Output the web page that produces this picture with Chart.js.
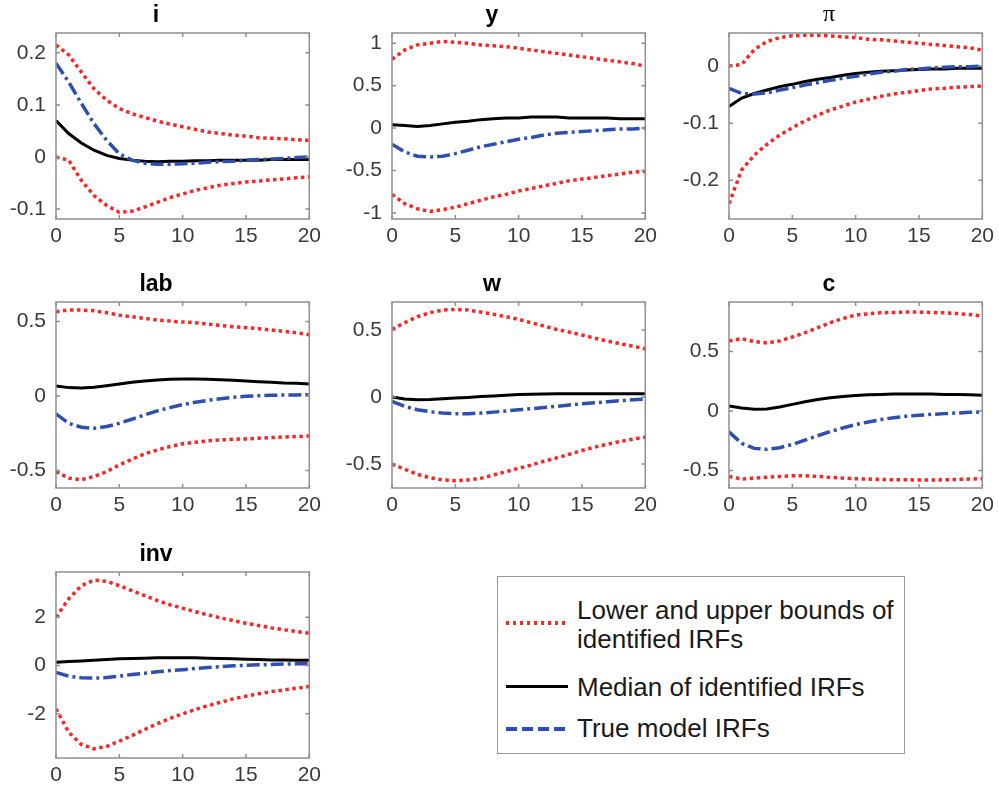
<!DOCTYPE html>
<html>
<head>
<meta charset="utf-8">
<script src="https://cdn.jsdelivr.net/npm/chart.js@4.4.1/dist/chart.umd.min.js"></script>
<style>
    body { margin: 0; background: #fff; }
    #fig { position: relative; width: 999px; height: 792px; font-family: "Liberation Sans", Arial, sans-serif; }
    #fig canvas { position: absolute; }
    #legend { position: absolute; left: 497px; top: 576px; width: 408px; height: 178px; box-sizing: border-box; border: 1px solid #999; }
    .key { position: absolute; left: 8px; width: 62px; height: 3px; }
    .txt { position: absolute; left: 79px; font-size: 26px; line-height: 29px; color: #1a1a1a; white-space: nowrap; }
</style>
</head>
<body>
<div id="fig">
    <div id="legend">
        <div class="key" style="top:44px;height:4px;background:repeating-linear-gradient(90deg,#ff2424 0 3px,transparent 3px 7px)"></div>
        <div class="txt" style="top:19px">Lower and upper bounds of<br>identified IRFs</div>
        <div class="key" style="top:108px;background:#000"></div>
        <div class="txt" style="top:96px">Median of identified IRFs</div>
        <div class="key" style="top:150px;height:4px;background:repeating-linear-gradient(90deg,#2f4fb0 0 11px,transparent 11px 16px)"></div>
        <div class="txt" style="top:137px">True model IRFs</div>
    </div>
</div>
<script>
    // horizon and ticks
    const steps = [0, 1, 2, 3, 4, 5, 6, 7, 8, 9, 10, 11, 12, 13, 14, 15, 16, 17, 18, 19, 20];
    const xTicks = [0, 5, 10, 15, 20];

    // i
    const iUpper = [0.215, 0.196, 0.163, 0.131, 0.109, 0.093, 0.083, 0.076, 0.069, 0.063, 0.058, 0.053, 0.048, 0.045, 0.042, 0.040, 0.037, 0.036, 0.035, 0.033, 0.032];
    const iLower = [0.000, -0.006, -0.045, -0.074, -0.093, -0.106, -0.104, -0.096, -0.087, -0.078, -0.071, -0.064, -0.059, -0.054, -0.051, -0.048, -0.046, -0.044, -0.042, -0.040, -0.038];
    const iMedian = [0.070, 0.045, 0.027, 0.013, 0.003, -0.003, -0.006, -0.008, -0.009, -0.008, -0.008, -0.007, -0.007, -0.006, -0.006, -0.006, -0.006, -0.005, -0.005, -0.005, -0.005];
    const iTrue = [0.180, 0.144, 0.103, 0.064, 0.032, 0.006, -0.006, -0.012, -0.014, -0.014, -0.013, -0.012, -0.010, -0.009, -0.008, -0.006, -0.005, -0.004, -0.003, -0.001, 0.000];
    const iTicks = [-0.1, 0, 0.1, 0.2];

    // y
    const yUpper = [0.81, 0.92, 0.98, 1.00, 1.02, 1.01, 1.00, 0.98, 0.97, 0.96, 0.94, 0.92, 0.90, 0.88, 0.86, 0.84, 0.82, 0.80, 0.78, 0.76, 0.73];
    const yLower = [-0.78, -0.89, -0.95, -0.98, -0.96, -0.93, -0.89, -0.85, -0.81, -0.78, -0.74, -0.71, -0.68, -0.65, -0.62, -0.60, -0.58, -0.56, -0.54, -0.52, -0.51];
    const yMedian = [0.04, 0.03, 0.02, 0.03, 0.05, 0.07, 0.08, 0.10, 0.11, 0.12, 0.12, 0.13, 0.13, 0.13, 0.12, 0.12, 0.12, 0.12, 0.11, 0.11, 0.11];
    const yTrue = [-0.19, -0.28, -0.33, -0.34, -0.33, -0.30, -0.26, -0.22, -0.19, -0.16, -0.13, -0.11, -0.08, -0.06, -0.05, -0.04, -0.03, -0.02, -0.01, -0.01, 0.00];
    const yTicks = [-1, -0.5, 0, 0.5, 1];

    // pi
    const piUpper = [0.000, 0.003, 0.029, 0.043, 0.050, 0.053, 0.054, 0.054, 0.053, 0.051, 0.050, 0.047, 0.046, 0.044, 0.042, 0.040, 0.038, 0.036, 0.034, 0.032, 0.028];
    const piLower = [-0.241, -0.182, -0.156, -0.137, -0.121, -0.108, -0.096, -0.086, -0.077, -0.070, -0.063, -0.058, -0.053, -0.049, -0.046, -0.043, -0.040, -0.039, -0.037, -0.036, -0.035];
    const piMedian = [-0.071, -0.056, -0.048, -0.042, -0.036, -0.032, -0.027, -0.023, -0.020, -0.016, -0.013, -0.011, -0.009, -0.008, -0.007, -0.006, -0.005, -0.005, -0.004, -0.004, -0.004];
    const piTrue = [-0.039, -0.048, -0.049, -0.047, -0.042, -0.038, -0.033, -0.029, -0.025, -0.021, -0.018, -0.014, -0.011, -0.009, -0.006, -0.005, -0.003, -0.002, -0.001, -0.001, 0.000];
    const piTicks = [-0.2, -0.1, 0];

    // lab
    const labUpper = [0.565, 0.576, 0.576, 0.571, 0.558, 0.542, 0.531, 0.520, 0.509, 0.502, 0.496, 0.491, 0.482, 0.473, 0.464, 0.458, 0.451, 0.442, 0.433, 0.424, 0.410];
    const labLower = [-0.507, -0.551, -0.562, -0.540, -0.507, -0.462, -0.424, -0.388, -0.362, -0.339, -0.321, -0.310, -0.301, -0.295, -0.290, -0.288, -0.283, -0.279, -0.275, -0.272, -0.268];
    const labMedian = [0.067, 0.056, 0.054, 0.058, 0.069, 0.080, 0.092, 0.100, 0.107, 0.112, 0.114, 0.114, 0.112, 0.109, 0.105, 0.100, 0.096, 0.092, 0.087, 0.085, 0.080];
    const labTrue = [-0.120, -0.183, -0.210, -0.217, -0.205, -0.183, -0.156, -0.127, -0.100, -0.078, -0.058, -0.042, -0.029, -0.018, -0.009, -0.002, 0.002, 0.004, 0.007, 0.007, 0.009];
    const labTicks = [-0.5, 0, 0.5];

    // w
    const wUpper = [0.505, 0.555, 0.600, 0.630, 0.650, 0.655, 0.650, 0.635, 0.618, 0.600, 0.580, 0.555, 0.530, 0.505, 0.485, 0.463, 0.440, 0.418, 0.398, 0.380, 0.360];
    const wLower = [-0.500, -0.540, -0.578, -0.603, -0.620, -0.625, -0.620, -0.608, -0.583, -0.558, -0.533, -0.508, -0.480, -0.455, -0.428, -0.400, -0.375, -0.353, -0.333, -0.315, -0.300];
    const wMedian = [0.000, -0.015, -0.020, -0.018, -0.013, -0.008, -0.003, 0.003, 0.008, 0.013, 0.018, 0.020, 0.023, 0.025, 0.025, 0.025, 0.025, 0.025, 0.025, 0.025, 0.025];
    const wTrue = [-0.033, -0.070, -0.095, -0.110, -0.120, -0.125, -0.125, -0.120, -0.113, -0.105, -0.095, -0.088, -0.078, -0.070, -0.060, -0.050, -0.043, -0.035, -0.028, -0.020, -0.015];
    const wTicks = [-0.5, 0, 0.5];

    // c
    const cUpper = [0.589, 0.608, 0.583, 0.572, 0.589, 0.622, 0.658, 0.700, 0.742, 0.778, 0.806, 0.817, 0.825, 0.828, 0.831, 0.831, 0.828, 0.825, 0.819, 0.811, 0.797];
    const cLower = [-0.550, -0.572, -0.564, -0.556, -0.550, -0.544, -0.544, -0.550, -0.558, -0.564, -0.569, -0.572, -0.575, -0.578, -0.578, -0.580, -0.580, -0.578, -0.575, -0.572, -0.569];
    const cMedian = [0.042, 0.025, 0.014, 0.017, 0.033, 0.056, 0.078, 0.097, 0.111, 0.122, 0.131, 0.136, 0.139, 0.142, 0.142, 0.142, 0.142, 0.139, 0.139, 0.136, 0.133];
    const cTrue = [-0.175, -0.272, -0.314, -0.322, -0.308, -0.281, -0.244, -0.208, -0.172, -0.142, -0.114, -0.092, -0.072, -0.056, -0.044, -0.036, -0.028, -0.022, -0.017, -0.011, -0.008];
    const cTicks = [-0.5, 0, 0.5];

    // inv
    const invUpper = [2.00, 2.76, 3.31, 3.54, 3.49, 3.31, 3.10, 2.90, 2.69, 2.52, 2.37, 2.23, 2.10, 1.97, 1.86, 1.75, 1.66, 1.56, 1.48, 1.41, 1.34];
    const invLower = [-1.79, -2.76, -3.27, -3.45, -3.35, -3.13, -2.90, -2.65, -2.41, -2.19, -2.00, -1.82, -1.66, -1.52, -1.38, -1.27, -1.17, -1.08, -1.01, -0.94, -0.87];
    const invMedian = [0.14, 0.17, 0.19, 0.22, 0.25, 0.28, 0.29, 0.30, 0.32, 0.32, 0.32, 0.32, 0.30, 0.29, 0.28, 0.26, 0.25, 0.23, 0.23, 0.22, 0.22];
    const invTrue = [-0.28, -0.44, -0.51, -0.52, -0.50, -0.44, -0.37, -0.32, -0.26, -0.21, -0.17, -0.12, -0.08, -0.04, -0.01, 0.01, 0.03, 0.04, 0.06, 0.07, 0.08];
    const invTicks = [-2, 0, 2];

    const panels = [
        { title: 'i', upper: iUpper, lower: iLower, median: iMedian, truth: iTrue, ticks: iTicks, min: -0.119, max: 0.238 },
        { title: 'y', upper: yUpper, lower: yLower, median: yMedian, truth: yTrue, ticks: yTicks, min: -1.07, max: 1.12 },
        { title: 'π', upper: piUpper, lower: piLower, median: piMedian, truth: piTrue, ticks: piTicks, min: -0.268, max: 0.058 },
        { title: 'lab', upper: labUpper, lower: labLower, median: labMedian, truth: labTrue, ticks: labTicks, min: -0.617, max: 0.63 },
        { title: 'w', upper: wUpper, lower: wLower, median: wMedian, truth: wTrue, ticks: wTicks, min: -0.68, max: 0.71 },
        { title: 'c', upper: cUpper, lower: cLower, median: cMedian, truth: cTrue, ticks: cTicks, min: -0.647, max: 0.916 },
        { title: 'inv', upper: invUpper, lower: invLower, median: invMedian, truth: invTrue, ticks: invTicks, min: -3.83, max: 3.875 }
    ];

    // grid of subplots
    const colLeft = [0, 336, 673];
    const rowTop = [0, 269, 539];

    // matlab style box with inward ticks
    const boxPlugin = {
        id: 'matlabBox',
        afterDraw(chart) {
            const { ctx, chartArea: a, scales } = chart;
            ctx.save();
            ctx.strokeStyle = '#8f8f8f';
            ctx.lineWidth = 1.5;
            ctx.strokeRect(a.left, a.top, a.right - a.left, a.bottom - a.top);
            ctx.beginPath();
            scales.x.ticks.forEach(t => {
                const px = scales.x.getPixelForValue(t.value);
                ctx.moveTo(px, a.bottom); ctx.lineTo(px, a.bottom - 4);
                ctx.moveTo(px, a.top); ctx.lineTo(px, a.top + 4);
            });
            scales.y.ticks.forEach(t => {
                const py = scales.y.getPixelForValue(t.value);
                ctx.moveTo(a.left, py); ctx.lineTo(a.left + 4, py);
                ctx.moveTo(a.right, py); ctx.lineTo(a.right - 4, py);
            });
            ctx.stroke();
            ctx.restore();
        }
    };

    function line(values, color, dash, width, order) {
        return {
            data: steps.map((s, k) => ({ x: s, y: values[k] })),
            borderColor: color,
            borderWidth: width,
            borderDash: dash,
            borderCapStyle: 'butt',
            pointRadius: 0,
            tension: 0,
            fill: false,
            order: order
        };
    }

    const fig = document.getElementById('fig');

    panels.forEach((p, n) => {
        const canvas = document.createElement('canvas');
        canvas.width = 326;
        canvas.height = 251;
        canvas.style.left = colLeft[n % 3] + 'px';
        canvas.style.top = rowTop[Math.floor(n / 3)] + 'px';
        fig.appendChild(canvas);

        const isPi = p.title === 'π';

        new Chart(canvas, {
            type: 'line',
            data: {
                datasets: [
                    line(p.upper, '#ff2424', [3.5, 3.5], 3.5, 3),
                    line(p.lower, '#ff2424', [3.5, 3.5], 3.5, 3),
                    line(p.median, '#000000', [], 3, 2),
                    line(p.truth, '#2f4fb0', [13, 4, 3, 4], 3.5, 1)
                ]
            },
            options: {
                responsive: false,
                animation: false,
                devicePixelRatio: 1,
                layout: { padding: { left: 0, right: 14, top: 0, bottom: 0 } },
                plugins: {
                    legend: { display: false },
                    tooltip: { enabled: false },
                    title: {
                        display: true,
                        text: p.title,
                        color: '#000',
                        font: isPi
                            ? { family: '"Liberation Serif", serif', size: 24, weight: 'normal', lineHeight: 1 }
                            : { family: '"Liberation Sans", Arial, sans-serif', size: 23, weight: 'bold', lineHeight: 1 },
                        padding: isPi ? { top: 3, bottom: 6 } : { top: 4, bottom: 6 }
                    }
                },
                scales: {
                    x: {
                        type: 'linear',
                        min: 0,
                        max: 20,
                        afterBuildTicks: s => { s.ticks = xTicks.map(v => ({ value: v })); },
                        afterFit: s => { s.height = 32; },
                        grid: { display: false, drawTicks: false },
                        border: { display: false },
                        ticks: {
                            padding: 5,
                            color: '#3a3a3a',
                            font: { family: '"Liberation Sans", Arial, sans-serif', size: 21 },
                            maxRotation: 0
                        }
                    },
                    y: {
                        type: 'linear',
                        min: p.min,
                        max: p.max,
                        afterBuildTicks: s => { s.ticks = p.ticks.map(v => ({ value: v })); },
                        afterFit: s => { s.width = 56; },
                        grid: { display: false, drawTicks: false },
                        border: { display: false },
                        ticks: {
                            padding: 10,
                            color: '#3a3a3a',
                            font: { family: '"Liberation Sans", Arial, sans-serif', size: 21 },
                            callback: v => String(v)
                        }
                    }
                }
            },
            plugins: [boxPlugin]
        });
    });
</script>
</body>
</html>
